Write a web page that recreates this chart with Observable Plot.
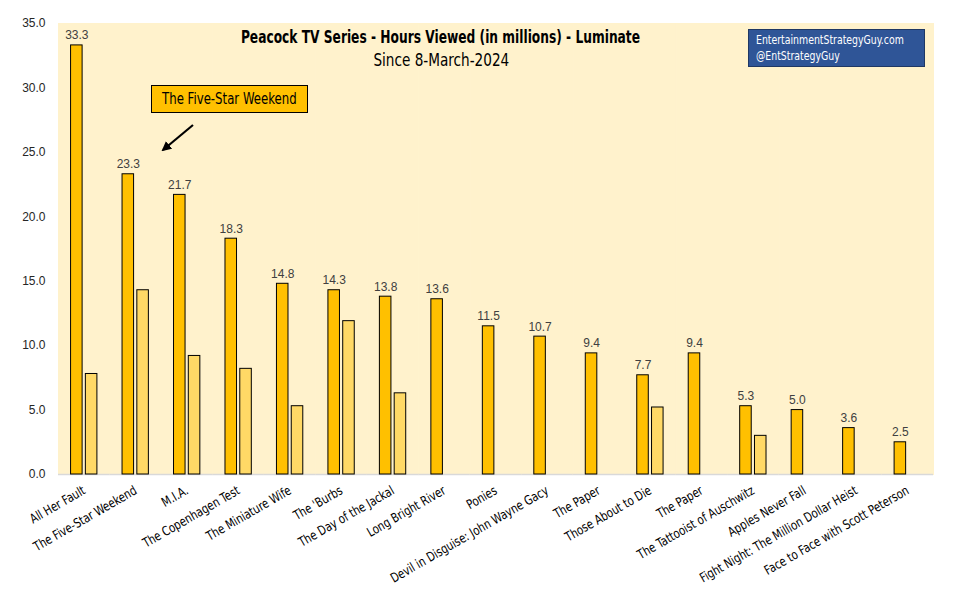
<!DOCTYPE html>
<html>
<head>
<meta charset="utf-8">
<script src="https://cdn.jsdelivr.net/npm/d3@7"></script>
<script src="https://cdn.jsdelivr.net/npm/@observablehq/plot@0.6"></script>
<style>
  body { margin: 0; background: #fff; }
  #wrap { position: relative; width: 965px; height: 615px; overflow: hidden; }
  .narrow { font-family: "Liberation Sans Narrow", "Arial Narrow", "DejaVu Sans Condensed", sans-serif; }
  .sq { display: inline-block; white-space: nowrap; }
  #title { position: absolute; left: 0; width: 880px; top: 27px; text-align: center; font-weight: bold; font-size: 17px; color: #000; }
  #title .sq { transform: scaleX(0.8); }
  #subtitle { position: absolute; left: 0; width: 882px; top: 50px; text-align: center; font-size: 17px; color: #000; }
  #subtitle .sq { transform: scaleX(0.89); }
  #brand { position: absolute; left: 748px; top: 29px; width: 177px; height: 38px; box-sizing: border-box; background: #2F5597; border: 1px solid #1F3864; color: #fff; font-size: 13px; line-height: 16px; padding: 2px 0 0 7px; }
  #brand .sq { transform: scaleX(0.8); transform-origin: 0 50%; }
  #note { position: absolute; left: 151px; top: 85px; width: 157px; height: 28px; box-sizing: border-box; background: #FFC000; border: 1px solid #000; color: #000; font-size: 15px; line-height: 26px; text-align: center; }
  #note .sq { transform: scaleX(0.87); }
  #arrow { position: absolute; left: 0; top: 0; pointer-events: none; }
</style>
</head>
<body>
<div id="wrap">
  <div id="chart"></div>
  <div id="title" class="narrow"><span class="sq">Peacock TV Series - Hours Viewed (in millions) - Luminate</span></div>
  <div id="subtitle" class="narrow"><span class="sq">Since 8-March-2024</span></div>
  <div id="brand" class="narrow"><span class="sq">EntertainmentStrategyGuy.com</span><br><span class="sq">@EntStrategyGuy</span></div>
  <div id="note" class="narrow"><span class="sq">The Five-Star Weekend</span></div>
  <svg id="arrow" width="965" height="615">
    <defs>
      <marker id="ah" viewBox="0 0 10 10" refX="8" refY="5" markerWidth="4.5" markerHeight="4.5" orient="auto">
        <path d="M0,0 L10,5 L0,10 z" fill="#000"/>
      </marker>
    </defs>
    <line x1="193" y1="125" x2="163" y2="150" stroke="#000" stroke-width="2.2" marker-end="url(#ah)"/>
  </svg>
</div>
<script>
const titles = [
  "All Her Fault", "The Five-Star Weekend", "M.I.A.", "The Copenhagen Test",
  "The Miniature Wife", "The 'Burbs", "The Day of the Jackal", "Long Bright River",
  "Ponies", "Devil in Disguise: John Wayne Gacy", "The Paper", "Those About to Die",
  "The Paper", "The Tattooist of Auschwitz", "Apples Never Fall",
  "Fight Night: The Million Dollar Heist", "Face to Face with Scott Peterson"
];
const seriesNames = ["Series A", "Series B"];
const seriesA = [33.3, 23.3, 21.7, 18.3, 14.8, 14.3, 13.8, 13.6, 11.5, 10.7, 9.4, 7.7, 9.4, 5.3, 5.0, 3.6, 2.5];
const seriesB = [7.8, 14.3, 9.2, 8.2, 5.3, 11.9, 6.3, null, null, null, null, 5.2, null, 3.0, null, null, null];
const yTicks = [0, 5, 10, 15, 20, 25, 30, 35];

const rows = [];
titles.forEach((t, i) => {
  rows.push({i, series: seriesNames[0], value: seriesA[i]});
  if (seriesB[i] != null) rows.push({i, series: seriesNames[1], value: seriesB[i]});
});
const labelRows = rows.filter(d => d.series === seriesNames[0]);

const narrow = '"Liberation Sans Narrow", "Arial Narrow", "DejaVu Sans Condensed", sans-serif';

const chart = Plot.plot({
  width: 965,
  height: 615,
  marginLeft: 58,
  marginRight: 32,
  marginTop: 23,
  marginBottom: 141,
  style: { fontFamily: "Liberation Sans, Arial, sans-serif", fontSize: "12px", color: "#262626", background: "transparent" },
  fx: { domain: d3.range(titles.length), padding: 0, round: false, label: null },
  x: { domain: seriesNames, paddingInner: 0.22, paddingOuter: 0.85, round: false, axis: null },
  y: { domain: [0, 35], label: null },
  color: { domain: seriesNames, range: ["#FFC000", "#FFD966"] },
  marks: [
    Plot.frame({ fill: "#FFF2CC", stroke: "#FFF2CC", strokeWidth: 1 }),
    Plot.ruleY([0], { stroke: "#D9D9D9", strokeWidth: 1.5 }),
    Plot.barY(rows, { fx: "i", x: "series", y: "value", fill: "series", stroke: "#000", strokeWidth: 1 }),
    Plot.text(labelRows, { fx: "i", x: "series", y: "value", text: d => d.value.toFixed(1), lineAnchor: "bottom", dy: -6, fill: "#404040", fontSize: 12 }),
    Plot.axisY({ ticks: yTicks, tickFormat: d3.format(".1f"), tickSize: 0, tickPadding: 13, label: null, fill: "#262626", fontSize: 12 }),
    Plot.axisFx({ anchor: "bottom", tickFormat: i => titles[i], tickRotate: -30, tickSize: 0, tickPadding: 15, label: null, fontFamily: narrow, fontSize: 13, fill: "#000" })
  ]
});
document.getElementById("chart").appendChild(chart);
// condense the rotated category labels along their baseline
d3.select(chart).selectAll('g[aria-label="fx-axis tick label"] text').each(function () {
  const t = this.getAttribute("transform");
  if (t) this.setAttribute("transform", t + " scale(0.87,1)");
});
</script>
</body>
</html>
